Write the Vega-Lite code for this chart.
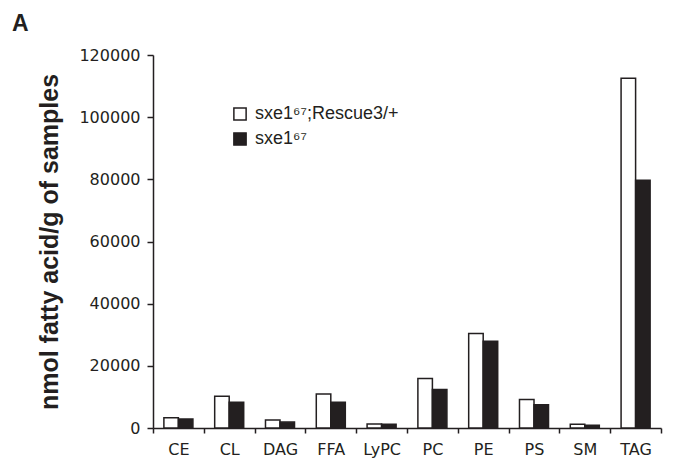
{
  "$schema": "https://vega.github.io/schema/vega-lite/v6.json",
  "width": 508,
  "height": 373,
  "autosize": {"type": "none"},
  "padding": {"left": 153, "top": 55, "right": 17, "bottom": 32},
  "background": "white",
  "title": {
    "text": "A",
    "anchor": "start",
    "frame": "group",
    "dx": -141,
    "dy": 15,
    "offset": 26,
    "fontSize": 23,
    "fontWeight": "bold",
    "font": "Liberation Sans",
    "color": "#231f20"
  },
  "config": {
    "view": {"stroke": null},
    "font": "DejaVu Sans"
  },
  "data": {
    "values": [
      {"lipid": "CE", "genotype": "sxe1⁶⁷;Rescue3/+", "value": 3300},
      {"lipid": "CE", "genotype": "sxe1⁶⁷", "value": 2900},
      {"lipid": "CL", "genotype": "sxe1⁶⁷;Rescue3/+", "value": 10200},
      {"lipid": "CL", "genotype": "sxe1⁶⁷", "value": 8300},
      {"lipid": "DAG", "genotype": "sxe1⁶⁷;Rescue3/+", "value": 2600},
      {"lipid": "DAG", "genotype": "sxe1⁶⁷", "value": 1900},
      {"lipid": "FFA", "genotype": "sxe1⁶⁷;Rescue3/+", "value": 10900},
      {"lipid": "FFA", "genotype": "sxe1⁶⁷", "value": 8300},
      {"lipid": "LyPC", "genotype": "sxe1⁶⁷;Rescue3/+", "value": 1300},
      {"lipid": "LyPC", "genotype": "sxe1⁶⁷", "value": 1200},
      {"lipid": "PC", "genotype": "sxe1⁶⁷;Rescue3/+", "value": 15900},
      {"lipid": "PC", "genotype": "sxe1⁶⁷", "value": 12400},
      {"lipid": "PE", "genotype": "sxe1⁶⁷;Rescue3/+", "value": 30400},
      {"lipid": "PE", "genotype": "sxe1⁶⁷", "value": 27900},
      {"lipid": "PS", "genotype": "sxe1⁶⁷;Rescue3/+", "value": 9200},
      {"lipid": "PS", "genotype": "sxe1⁶⁷", "value": 7500},
      {"lipid": "SM", "genotype": "sxe1⁶⁷;Rescue3/+", "value": 1200},
      {"lipid": "SM", "genotype": "sxe1⁶⁷", "value": 900},
      {"lipid": "TAG", "genotype": "sxe1⁶⁷;Rescue3/+", "value": 112500},
      {"lipid": "TAG", "genotype": "sxe1⁶⁷", "value": 79700}
    ]
  },
  "mark": {"type": "bar", "stroke": "#231f20", "strokeWidth": 1.5},
  "encoding": {
    "x": {
      "field": "lipid",
      "type": "nominal",
      "sort": null,
      "scale": {"paddingInner": 0, "paddingOuter": 0},
      "axis": {
        "title": null,
        "labelAngle": 0,
        "tickBand": "extent",
        "domainColor": "#231f20",
        "domainWidth": 1.5,
        "tickColor": "#231f20",
        "tickWidth": 1.5,
        "tickSize": 5,
        "labelFontSize": 16,
        "labelColor": "#231f20",
        "labelPadding": 8,
        "labelFont": "DejaVu Sans"
      }
    },
    "xOffset": {
      "field": "genotype",
      "type": "nominal",
      "sort": ["sxe1⁶⁷;Rescue3/+", "sxe1⁶⁷"],
      "scale": {"paddingInner": 0, "paddingOuter": 0.75}
    },
    "y": {
      "field": "value",
      "type": "quantitative",
      "scale": {"domain": [0, 120000], "nice": false},
      "axis": {
        "title": "nmol fatty acid/g of samples",
        "titleFont": "Liberation Sans",
        "titleFontSize": 25,
        "titleFontWeight": "bold",
        "titleColor": "#231f20",
        "titlePadding": 16,
        "values": [0, 20000, 40000, 60000, 80000, 100000, 120000],
        "format": "d",
        "grid": false,
        "domainColor": "#231f20",
        "domainWidth": 1.5,
        "tickColor": "#231f20",
        "tickWidth": 1.5,
        "tickSize": 6,
        "labelFontSize": 16,
        "labelColor": "#231f20",
        "labelPadding": 7,
        "labelFont": "DejaVu Sans"
      }
    },
    "fill": {
      "field": "genotype",
      "type": "nominal",
      "scale": {
        "domain": ["sxe1⁶⁷;Rescue3/+", "sxe1⁶⁷"],
        "range": ["white", "#231f20"]
      },
      "legend": {
        "title": null,
        "orient": "none",
        "legendX": 78,
        "legendY": 50,
        "symbolType": "square",
        "symbolSize": 150,
        "symbolStrokeColor": "#231f20",
        "symbolStrokeWidth": 1.5,
        "labelFontSize": 18,
        "labelFont": "Liberation Sans",
        "labelColor": "#231f20",
        "rowPadding": 5,
        "labelOffset": 6
      }
    }
  }
}
